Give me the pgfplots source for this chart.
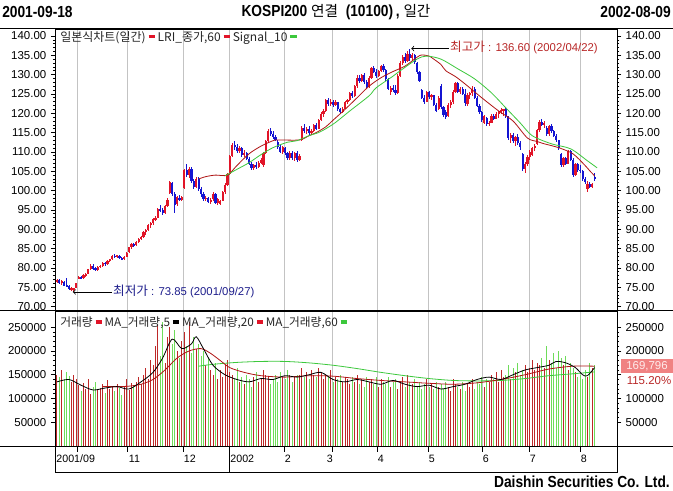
\documentclass[border=0pt]{standalone}
\usepackage{pgfplots}
\pgfplotsset{compat=1.18}
\usepackage{pgfplotstable}
\usepackage{fontspec}
\setmainfont{Liberation Sans}
\newfontfamily\kr{Noto Sans CJK KR}
\newfontfamily\hdr[FakeStretch=0.86]{Liberation Sans}
\definecolor{cUp}{RGB}{225,20,40}
\definecolor{cDn}{RGB}{20,20,210}
\definecolor{cMA}{RGB}{175,20,20}
\definecolor{cSig}{RGB}{60,200,60}
\definecolor{vUp}{RGB}{190,40,40}
\definecolor{vDn}{RGB}{110,220,90}
\definecolor{grd}{RGB}{195,195,195}
\definecolor{hiTxt}{RGB}{185,40,40}
\definecolor{loTxt}{RGB}{30,30,140}
\definecolor{salmon}{RGB}{240,130,130}
\newcommand{\lbox}[1]{\hspace{2.2pt}{\color{#1}\rule[2.4pt]{4.6pt}{2.6pt}}\hspace{2.2pt}}

\pgfplotstableread{
i o h l c v
0 76.3 77.2 76.0 76.9 150
1 76.9 77.0 75.9 76.1 145
2 76.0 76.8 75.6 76.5 160
3 76.4 76.6 75.2 75.4 140
4 75.5 77.3 75.0 75.3 155
5 75.2 75.6 74.2 74.5 148
6 74.4 75.0 74.0 74.8 135
7 74.5 74.9 73.85 74.6 150
8 74.9 76.2 74.8 76.0 142
9 77.2 77.8 77.0 77.6 128
10 77.6 78.0 77.1 77.3 115
11 77.4 78.3 77.2 78.1 132
12 78.1 78.6 77.7 78.4 120
13 78.5 79.8 78.3 79.6 140
14 79.7 80.9 79.5 80.6 110
15 80.6 80.9 79.5 79.8 125
16 79.9 80.3 79.2 79.4 135
17 79.4 80.5 79.2 80.2 118
18 80.2 80.8 79.9 80.5 122
19 80.5 81.5 80.3 81.3 130
20 81.3 81.6 80.6 81.0 112
21 81.0 82.0 80.8 81.8 138
22 81.8 82.4 81.5 82.2 120
23 82.2 83.3 82.0 83.1 126
24 83.1 83.6 82.6 82.8 115
25 82.8 83.4 82.5 83.2 130
26 83.0 83.2 82.3 82.5 122
27 82.5 82.8 81.9 82.2 108
28 82.2 83.0 82.0 82.8 125
29 82.9 84.1 82.7 83.9 140
30 84.0 85.5 83.8 85.3 118
31 85.3 86.4 84.9 86.1 132
32 86.1 86.5 85.4 85.7 128
33 85.8 86.9 85.6 86.7 135
34 86.7 87.8 86.4 87.5 145
35 87.5 88.3 87.1 88.0 130
36 88.0 89.6 87.8 89.3 150
37 89.3 90.0 88.6 89.8 165
38 89.8 91.3 89.6 91.0 140
39 91.0 91.8 90.4 91.5 180
40 91.5 92.9 91.2 92.6 170
41 92.6 93.4 92.0 92.9 210
42 93.0 95.6 92.8 95.2 255
43 95.2 96.3 94.5 94.9 190
44 94.9 95.6 93.8 94.2 260
45 94.3 96.2 94.0 95.9 175
46 96.0 98.0 95.8 97.6 230
47 99.3 102.6 99.0 102.2 250
48 102.0 102.3 98.5 99.0 215
49 99.0 99.5 94.3 96.3 245
50 96.5 98.6 96.0 98.3 200
51 98.2 98.9 97.2 97.6 185
52 97.6 98.6 97.3 98.4 220
53 100.6 105.5 100.4 105.3 240
54 105.3 106.9 103.5 104.0 210
55 104.0 106.2 103.2 105.7 260
56 105.6 106.0 102.0 102.6 195
57 102.5 103.0 100.4 101.0 230
58 101.0 103.5 100.6 103.1 205
59 103.0 103.6 100.0 100.4 215
60 100.4 100.8 98.4 99.0 190
61 99.0 99.6 97.4 97.8 200
62 97.8 98.6 97.2 98.2 170
63 98.1 98.4 96.8 97.1 185
64 97.2 98.1 96.6 97.6 160
65 97.7 99.6 97.4 99.2 150
66 99.1 99.4 96.4 96.9 175
67 96.9 98.0 96.2 97.8 140
68 96.5 97.6 96.3 97.4 160
69 97.4 100.0 97.2 99.6 145
70 99.6 102.0 99.2 101.5 170
71 101.5 104.6 101.2 104.2 180
72 104.3 109.3 104.1 108.9 155
73 109.0 112.4 108.7 111.7 150
74 111.7 112.8 110.6 111.2 140
75 111.2 112.0 109.8 110.2 165
76 110.2 111.5 109.6 111.0 135
77 111.0 111.4 108.8 109.3 145
78 109.3 110.5 108.6 109.8 130
79 109.7 110.0 107.8 108.2 150
80 108.2 108.6 106.6 107.0 140
81 107.0 107.5 105.4 105.8 125
82 105.8 107.0 105.2 106.6 145
83 106.6 107.4 105.6 106.0 155
84 106.0 107.6 105.8 107.2 135
85 107.2 108.4 106.8 107.9 140
86 106.5 110.0 106.2 109.6 160
87 109.6 113.2 109.4 112.8 150
88 112.8 116.0 112.5 115.5 145
89 115.5 116.2 114.2 114.6 130
90 114.6 115.4 113.4 113.8 140
91 113.8 114.3 112.8 113.1 150
92 112.6 113.0 110.8 111.2 135
93 111.2 111.7 109.6 110.0 155
94 110.0 111.6 109.4 111.2 145
95 111.0 111.4 109.2 109.6 140
96 109.6 110.0 108.0 108.4 160
97 108.4 110.2 108.0 109.8 150
98 109.8 110.2 107.8 108.3 135
99 108.3 110.1 107.6 109.7 145
100 109.7 110.2 107.4 107.8 150
101 107.8 109.4 107.6 109.0 150
102 113.0 116.8 112.8 116.3 165
103 116.3 117.2 115.0 115.5 145
104 115.5 116.4 114.6 116.0 155
105 116.0 116.6 114.4 114.8 140
106 114.8 115.8 114.3 115.4 160
107 115.4 117.3 115.1 117.0 150
108 117.0 117.5 115.6 116.0 145
109 116.0 118.6 115.8 118.2 165
110 118.2 120.3 117.9 119.9 155
111 119.9 121.0 119.1 120.6 140
112 120.6 123.8 120.4 123.4 150
113 123.4 123.9 122.0 122.5 145
114 122.5 123.6 121.8 123.0 160
115 123.0 123.4 121.7 122.2 135
116 122.2 123.4 121.8 123.0 145
117 122.8 123.0 120.6 121.0 140
118 121.0 121.3 119.8 120.4 150
119 120.4 121.6 120.0 121.2 135
120 121.2 123.3 121.0 122.9 145
121 122.9 123.8 122.4 123.5 140
122 123.5 125.6 123.2 125.2 130
123 125.2 125.7 124.0 124.4 145
124 124.4 127.4 124.2 127.0 135
125 127.0 129.8 126.6 129.2 150
126 129.2 130.0 127.8 128.3 130
127 128.3 130.2 128.0 129.8 140
128 129.8 130.4 127.6 128.0 125
129 128.0 128.5 126.3 126.8 145
130 126.8 129.6 126.5 129.2 135
131 129.2 132.0 128.8 131.6 140
132 131.6 132.3 130.4 130.8 130
133 130.8 131.4 129.2 129.6 145
134 129.6 131.2 129.3 130.9 125
135 130.9 132.6 130.6 132.2 140
136 132.2 132.8 130.8 131.2 135
137 131.2 131.4 128.4 128.8 130
138 128.8 129.2 126.0 126.4 145
139 125.4 127.0 124.6 126.6 125
140 126.6 127.2 125.6 126.0 135
141 126.0 127.4 124.8 125.2 140
142 125.2 130.2 125.0 129.6 120
143 129.6 133.4 129.4 133.0 135
144 133.0 135.0 132.6 134.6 145
145 134.6 135.6 133.0 133.5 125
146 133.5 136.0 133.2 135.4 150
147 135.4 136.6 133.6 134.2 135
148 134.2 135.6 133.6 135.2 130
149 135.2 135.4 132.8 133.3 140
150 133.0 133.2 130.2 130.6 125
151 130.6 131.0 128.0 128.4 135
152 126.0 126.4 123.6 124.0 120
153 124.0 124.8 122.4 122.8 130
154 123.0 125.8 122.8 125.4 140
155 125.4 125.8 123.8 124.2 125
156 124.2 125.0 123.4 124.6 130
157 124.6 124.8 121.8 122.2 120
158 122.2 122.6 120.2 120.6 135
159 121.0 124.4 120.8 124.0 125
160 127.0 127.6 121.0 121.6 130
161 121.6 122.0 119.0 119.6 120
162 120.4 120.8 118.6 119.0 135
163 119.2 122.6 119.0 122.2 125
164 122.2 123.4 121.4 122.8 115
165 122.8 126.0 122.4 125.6 140
166 125.6 128.2 125.2 127.8 130
167 127.8 128.0 125.2 125.6 125
168 125.6 126.8 125.0 126.4 120
169 126.4 126.8 124.6 125.0 135
170 125.0 126.2 122.0 122.6 115
171 122.4 125.2 122.0 124.8 130
172 124.8 125.6 123.8 125.2 125
173 125.2 127.0 124.4 126.4 140
174 126.4 126.8 123.6 124.0 120
175 124.0 124.4 121.6 122.0 135
176 122.0 122.4 119.8 120.2 130
177 120.2 120.6 117.8 118.2 145
178 117.4 119.6 117.2 119.2 125
179 118.8 119.0 116.8 117.2 140
180 117.2 118.0 116.6 117.6 135
181 117.6 119.8 117.4 119.4 150
182 119.4 119.8 118.2 118.6 140
183 118.6 120.2 118.4 119.8 155
184 119.8 120.6 118.8 120.4 135
185 120.4 121.4 119.8 120.8 160
186 120.8 121.2 119.4 121.0 145
187 121.0 121.3 118.8 119.2 150
188 119.2 119.4 113.0 113.6 170
189 113.6 115.0 112.4 114.4 140
190 114.4 114.8 112.2 112.8 165
191 112.8 114.2 111.6 113.8 155
192 113.8 114.6 111.8 112.2 175
193 112.2 112.8 110.6 111.2 150
194 109.4 109.8 105.0 105.6 160
195 105.6 107.4 104.6 107.0 170
196 106.8 109.2 106.4 108.8 155
197 108.8 110.4 108.0 110.0 165
198 109.2 111.4 109.0 111.0 180
199 111.0 112.0 110.2 111.6 160
200 112.0 116.0 111.8 115.6 175
201 115.6 118.2 115.2 117.8 170
202 117.8 118.4 116.6 117.0 185
203 117.0 118.0 116.2 117.6 165
204 116.2 116.6 114.2 114.6 210
205 114.6 117.0 114.2 116.6 180
206 116.6 117.2 115.0 115.4 175
207 115.4 115.6 113.8 114.2 195
208 114.2 114.6 112.6 113.2 165
209 113.0 113.2 110.6 111.0 200
210 109.4 109.8 106.0 106.6 185
211 106.6 108.8 106.2 108.4 170
212 108.4 108.6 106.6 107.0 190
213 107.0 110.6 106.8 110.2 160
214 110.2 110.6 107.6 108.0 175
215 108.0 108.4 103.4 104.0 165
216 104.0 107.2 103.8 106.8 155
217 106.8 107.2 104.8 105.2 145
218 105.4 106.6 104.6 105.0 150
219 105.0 105.2 102.6 103.0 140
220 103.0 103.6 101.8 102.2 160
221 100.4 102.4 99.6 101.8 145
222 101.8 102.2 100.6 101.0 175
223 101.0 102.0 100.6 101.6 165
224 103.6 104.6 102.6 103.0 169.796
}\price

\pgfplotsset{
  base/.style={
    scale only axis, anchor=south west, width=421.5pt,
    xmin=-0.833, xmax=233.33, xtick=\empty,
    axis line style={line width=0.6pt},
    tick align=outside, major tick length=3pt, minor tick length=1.6pt,
    tick style={black, line width=0.5pt},
    tick label style={font=\fontsize{8.6}{10}\selectfont},
  },
  upper/.style={base, at={(41.25pt,135.75pt)}, height=210.75pt,
    ymin=69.09, ymax=141.81, ytick={70,75,...,140}, minor y tick num=4,
    yticklabel style={/pgf/number format/.cd, fixed, fixed zerofill, precision=2, assume math mode=true}},
  lower/.style={base, at={(41.25pt,33.75pt)}, height=101.25pt,
    ymin=0, ymax=284.2, ytick={50,100,150,200,250}, minor y tick num=4},
  cwick/.style={draw=none, no markers, restrict y to domain=0:1000,
    error bars/.cd, y dir=both, y explicit, error mark=none,
    error mark options={draw=none, fill=none},
    error bar style={draw=#1, line width=0.55pt}},
  cbody/.style={draw=none, no markers, restrict y to domain=0:1000,
    error bars/.cd, y dir=both, y explicit, error mark=none,
    error mark options={draw=none, fill=none},
    error bar style={draw=#1, line width=1.65pt}},
}

\begin{document}
\begin{tikzpicture}
\useasboundingbox (0,0) rectangle (504.75pt,368.25pt);
\fill[white] (0,0) rectangle (504.75pt,368.25pt);

% background decorations in pixel coordinates
\begin{scope}[x=0.75pt, y=-0.75pt, yshift=368.25pt]
  \foreach \g in {77,127,183,229,284,332,377,428,482,529,580}
    \draw[grd, line width=0.7pt] (\g,29) -- (\g,446);
  \draw[line width=0.7pt] (0,28.5) -- (673,28.5);
  \draw[line width=0.7pt] (0,310.5) -- (673,310.5);
  \draw[line width=0.7pt] (0,446) -- (673,446);
  \draw[line width=0.6pt] (55,446) -- (55,472) -- (617,472) -- (617,446);
  \foreach \g in {77,127,183,284,332,377,428,482,529,580}
    \draw[line width=0.5pt] (\g,446) -- (\g,452);
  \draw[line width=0.5pt] (229,446) -- (229,472);
  \begin{scope}[font=\fontsize{8}{9}\selectfont]
    \node[anchor=west, inner sep=0.5pt] at (55.5,459) {2001/09};
    \node[anchor=west, inner sep=0.5pt] at (128,459) {11};
    \node[anchor=west, inner sep=0.5pt] at (183,459) {12};
    \node[anchor=west, inner sep=0.5pt] at (229.5,459) {2002};
    \node[anchor=west, inner sep=0.5pt] at (284,459) {2};
    \node[anchor=west, inner sep=0.5pt] at (326,459) {3};
    \node[anchor=west, inner sep=0.5pt] at (377,459) {4};
    \node[anchor=west, inner sep=0.5pt] at (428,459) {5};
    \node[anchor=west, inner sep=0.5pt] at (482,459) {6};
    \node[anchor=west, inner sep=0.5pt] at (529,459) {7};
    \node[anchor=west, inner sep=0.5pt] at (580,459) {8};
  \end{scope}
  \node[anchor=west, inner sep=0] at (2,12.5) {\fontsize{12}{14}\selectfont\hdr\bfseries 2001-09-18};
  \node[inner sep=0] at (336,12.5) {\fontsize{12}{14}\selectfont\hdr\bfseries KOSPI200 {\kr\mdseries\fontsize{11}{13}\selectfont 연결} \ (10100)\,, {\kr\mdseries\fontsize{11}{13}\selectfont 일간}};
  \node[anchor=east, inner sep=0] at (671,12.5) {\fontsize{12}{14}\selectfont\hdr\bfseries 2002-08-09};
  \node[anchor=east, inner sep=0] at (670,481.5) {\fontsize{12}{14}\selectfont\hdr\bfseries Daishin Securities Co. Ltd.};
\end{scope}

% ---------------- price panel ----------------
\begin{axis}[upper, ytick pos=both, yticklabel pos=left]
  \addplot[cwick=cUp] table[x=i, y expr={(\thisrow{c}>=\thisrow{o}) ? (\thisrow{h}+\thisrow{l})/2 : -1000}, y error expr={(\thisrow{h}-\thisrow{l})/2}] {\price};
  \addplot[cwick=cDn] table[x=i, y expr={(\thisrow{c}<\thisrow{o}) ? (\thisrow{h}+\thisrow{l})/2 : -1000}, y error expr={(\thisrow{h}-\thisrow{l})/2}] {\price};
  \addplot[cbody=cUp] table[x=i, y expr={(\thisrow{c}>=\thisrow{o}) ? (\thisrow{o}+\thisrow{c})/2 : -1000}, y error expr={max(abs(\thisrow{c}-\thisrow{o})/2,0.18)}] {\price};
  \addplot[cbody=cDn] table[x=i, y expr={(\thisrow{c}<\thisrow{o}) ? (\thisrow{o}+\thisrow{c})/2 : -1000}, y error expr={max(abs(\thisrow{c}-\thisrow{o})/2,0.18)}] {\price};
  % LRI_종가,60
  \addplot[cMA, line width=0.6pt, smooth, mark=none] coordinates {
    (59,103.0) (62,103.6) (66,104.0) (71,104.0) (75,106.5) (80,109.5) (85,111.5)
    (90,112.9) (92,113.1) (101,113.1) (105,114.2) (108,115.0) (112,116.5) (115,118.2)
    (120,121.0) (125,124.0) (130,127.0) (135,129.2) (140,130.8) (145,132.2) (150,134.5)
    (152,135.1) (155,134.8) (157,134.0) (160,132.6) (162,131.0) (166,129.5) (170,127.6)
    (177,124.0) (184,120.6) (190,118.0) (196,113.6) (200,112.7) (203,112.1) (209,111.1)
    (215,109.5) (220,106.5) (222,105.1) (224,103.8)};
  % Signal_10
  \addplot[cSig, line width=0.6pt, smooth, mark=none] coordinates {
    (70,103.8) (75,105.5) (80,107.2) (85,109.3) (90,111.1) (96,112.5) (100,112.9)
    (105,114.2) (109,115.0) (112,116.0) (116,117.6) (122,120.6) (130,124.5) (133,126.6)
    (140,129.6) (143,131.0) (150,134.0) (154,134.8) (160,134.0) (167,131.5) (174,128.9)
    (181,125.3) (187,121.4) (193,117.5) (198,114.2) (206,112.1) (214,110.8) (221,107.7)
    (225,105.9)};
  % annotations
  \draw[line width=0.6pt, <-] (axis cs:147.6,136.75) -- (axis cs:163.3,136.75);
  \node[anchor=west, inner sep=0.5pt, text=hiTxt, font=\fontsize{8.5}{10}\selectfont]
    at (axis cs:163.4,136.95) {{\kr\fontsize{9.5}{10}\selectfont 최고가} : 136.60 (2002/04/22)};
  \draw[line width=0.6pt, <-] (axis cs:6.6,73.75) -- (axis cs:22.9,73.75);
  \node[anchor=west, inner sep=0.5pt, text=loTxt, font=\fontsize{8.5}{10}\selectfont]
    at (axis cs:23.0,73.95) {{\kr\fontsize{9.5}{10}\selectfont 최저가} : 73.85 (2001/09/27)};
\end{axis}
\begin{axis}[upper, axis x line=none, axis y line*=right, tick align=outside]
\end{axis}

% ---------------- volume panel ----------------
\begin{axis}[lower, ytick pos=both, yticklabel pos=left,
    yticklabels={50000,100000,150000,200000,250000}]
  \addplot[ycomb, draw=vDn, line width=0.75pt, mark=none, restrict y to domain=0:1000]
    table[x=i, y expr={(\thisrow{c}<\thisrow{o}) ? \thisrow{v} : -1000}] {\price};
  \addplot[ycomb, draw=vUp, line width=0.75pt, mark=none, restrict y to domain=0:1000]
    table[x=i, y expr={(\thisrow{c}>=\thisrow{o}) ? \thisrow{v} : -1000}] {\price};
  % MA 60
  \addplot[cSig, line width=0.6pt, smooth, mark=none] coordinates {
    (59,168) (65,172) (75,176) (85,178) (95,178) (105,175) (115,170) (125,163)
    (135,155) (145,148) (155,142) (165,138) (175,137) (185,138) (195,142) (205,148)
    (215,152) (224,156)};
  % MA 20
  \addplot[cMA, line width=0.6pt, smooth, mark=none] coordinates {
    (19,125) (25,125) (30,126) (35,130) (40,140) (45,160) (50,185) (55,200) (60,205)
    (64,195) (68,180) (72,165) (78,155) (85,148) (95,145) (105,148) (115,147) (125,142)
    (135,138) (145,135) (155,132) (165,130) (175,133) (185,140) (195,150) (205,162)
    (215,168) (224,168)};
  % MA 5
  \addplot[black, line width=0.6pt, smooth, mark=none] coordinates {
    (0,135) (5,140) (10,128) (15,118) (20,122) (25,125) (30,120) (35,135) (40,155)
    (44,185) (48,225) (52,205) (56,215) (58,230) (61,205) (65,170) (70,150) (75,140)
    (80,135) (85,142) (90,140) (95,148) (100,145) (105,150) (110,155) (115,140) (120,135)
    (125,140) (130,135) (135,130) (140,138) (145,130) (150,125) (155,128) (160,120)
    (165,125) (170,130) (175,140) (180,145) (185,140) (190,150) (195,160) (200,165)
    (205,170) (208,178) (212,175) (216,165) (219,150) (221,148) (224,165)};
\end{axis}
\begin{axis}[lower, axis x line=none, axis y line*=right, tick align=outside,
    yticklabels={50000,100000,,200000,250000}]
\end{axis}

% ---------------- legends and value tags ----------------
\begin{scope}[x=0.75pt, y=-0.75pt, yshift=368.25pt]
  \node[anchor=west, inner sep=0, text=black!85, font=\kr\fontsize{9}{10}\selectfont] at (60,38)
    {일본식차트(일간)\lbox{cUp}LRI\_종가,60\lbox{cUp}Signal\_10\lbox{cSig}};
  \node[anchor=west, inner sep=0, text=black!85, font=\kr\fontsize{8.8}{10}\selectfont] at (60,323)
    {거래량\lbox{cUp}MA\_거래량,5\lbox{black}MA\_거래량,20\lbox{cUp}MA\_거래량,60\lbox{cSig}};
  \fill[salmon] (621,359) rectangle (673,373);
  \node[inner sep=0, text=white!92!red, font=\fontsize{8.6}{10}\selectfont] at (647,366) {169,796};
  \node[inner sep=0, text=hiTxt, font=\fontsize{8.6}{10}\selectfont] at (649,380.5) {115.20\%};
\end{scope}
\end{tikzpicture}
\end{document}
